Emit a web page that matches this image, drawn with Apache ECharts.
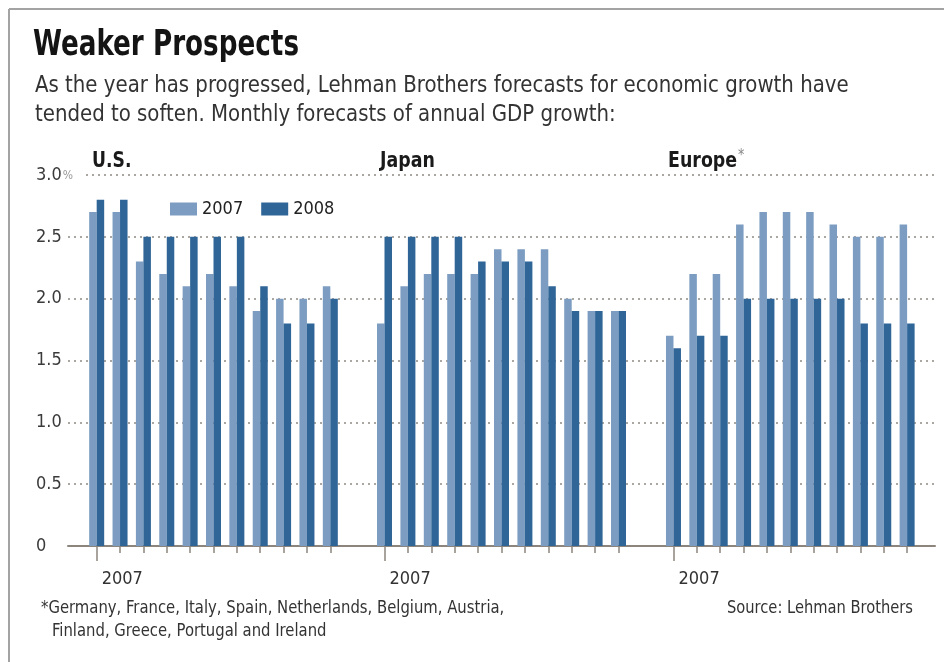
<!DOCTYPE html>
<html>
<head>
<meta charset="utf-8">
<script src="https://cdn.jsdelivr.net/npm/echarts@6/dist/echarts.min.js"></script>
<style>
  html,body{margin:0;padding:0;background:#fff;}
  #chart{width:944px;height:662px;}
</style>
</head>
<body>
<div id="chart"></div>
<script>
// ---- data ----
const months = ['Jan','Feb','Mar','Apr','May','Jun','Jul','Aug','Sep','Oct','Nov'];
const seriesNames = ['2007', '2008'];
const us2007 = [2.7, 2.7, 2.3, 2.2, 2.1, 2.2, 2.1, 1.9, 2.0, 2.0, 2.1];
const us2008 = [2.8, 2.8, 2.5, 2.5, 2.5, 2.5, 2.5, 2.1, 1.8, 1.8, 2.0];
const jp2007 = [1.8, 2.1, 2.2, 2.2, 2.2, 2.4, 2.4, 2.4, 2.0, 1.9, 1.9];
const jp2008 = [2.5, 2.5, 2.5, 2.5, 2.3, 2.3, 2.3, 2.1, 1.9, 1.9, 1.9];
const eu2007 = [1.7, 2.2, 2.2, 2.6, 2.7, 2.7, 2.7, 2.6, 2.5, 2.5, 2.6];
const eu2008 = [1.6, 1.7, 1.7, 2.0, 2.0, 2.0, 2.0, 2.0, 1.8, 1.8, 1.8];
const yMin = 0, yMax = 3, yStep = 0.5;
const panelTitles = ['U.S.', 'Japan', 'Europe'];
const yearLabel = '2007';

// ---- style ----
const FONT = "'Liberation Sans Narrow','DejaVu Sans Condensed','Noto Sans',sans-serif";
const C_LIGHT = '#7c9dc1';
const C_DARK = '#2f6597';
const C_AXIS = '#8c857d';
const C_GRID = '#8f8a84';

const chart = echarts.init(document.getElementById('chart'), null, {renderer: 'canvas'});

const panels = [
  {left: 85.0, width: 257.0, d07: us2007, d08: us2008},
  {left: 372.8, width: 257.4, d07: jp2007, d08: jp2008},
  {left: 661.8, width: 257.0, d07: eu2007, d08: eu2008}
];
const TOP = 175, BOTTOM = 116;

const grids = [{left: 68, right: 9, top: TOP, bottom: BOTTOM}];
const xAxes = [{
  gridIndex: 0, type: 'value', min: 0, max: 1,
  axisLine: {show: true, lineStyle: {color: C_AXIS, width: 2}},
  axisTick: {show: false}, axisLabel: {show: false}, splitLine: {show: false}
}];
const yAxes = [{
  gridIndex: 0, type: 'value', min: yMin, max: yMax, interval: yStep,
  axisLine: {show: false}, axisTick: {show: false},
  axisLabel: {
    margin: 32, align: 'left', fontFamily: FONT, fontSize: 18, color: '#3a3a3a',
    formatter: v => v === yMax ? '{a|' + v.toFixed(1) + '}{p|%}' : (v === 0 ? '0' : v.toFixed(1)),
    rich: {
      a: {fontFamily: FONT, fontSize: 18, color: '#3a3a3a'},
      p: {fontFamily: FONT, fontSize: 12, color: '#999', padding: [2, 9, 0, 1], backgroundColor: '#fff'}
    }
  },
  splitLine: {show: true, lineStyle: {color: C_GRID, type: [2, 4], width: 1.5}}
}];
const series = [];

panels.forEach((p, k) => {
  const gi = k + 1;
  grids.push({left: p.left, width: p.width, top: TOP, bottom: BOTTOM});
  xAxes.push({
    gridIndex: gi, type: 'category', data: months, position: 'bottom',
    axisLine: {show: false},
    axisTick: {show: true, alignWithLabel: true, interval: 0, length: 7, lineStyle: {color: C_AXIS, width: 1.5}},
    axisLabel: {show: false, interval: 0}, splitLine: {show: false}
  });
  xAxes.push({
    gridIndex: gi, type: 'category', data: months, position: 'bottom',
    axisLine: {show: false},
    axisTick: {show: true, alignWithLabel: true, length: 15, interval: (i) => i === 0,
               lineStyle: {color: C_AXIS, width: 1.5}},
    axisLabel: {show: true, interval: 0, margin: 24, align: 'left', padding: [0, 0, 0, 5],
                fontFamily: FONT, fontSize: 18, color: '#333',
                formatter: (v, i) => i === 0 ? yearLabel : ''},
    splitLine: {show: false}
  });
  yAxes.push({gridIndex: gi, type: 'value', min: yMin, max: yMax, show: false, splitLine: {show: false}});
  const xi = 1 + k * 2;
  series.push({
    name: seriesNames[0], type: 'bar', xAxisIndex: xi, yAxisIndex: gi,
    data: p.d07, barWidth: 7.5, barGap: '0%', itemStyle: {color: C_LIGHT}, z: 3
  });
  series.push({
    name: seriesNames[1], type: 'bar', xAxisIndex: xi, yAxisIndex: gi,
    data: p.d08, barWidth: 7.5, barGap: '0%', itemStyle: {color: C_DARK}, z: 3
  });
});

const txt = (x, y, text, size, sx, style) => ({
  type: 'text', x: x, y: y, scaleX: sx, silent: true,
  style: Object.assign({text: text, fontFamily: FONT, fontSize: size, fill: '#222',
                        verticalAlign: 'middle', align: 'left'}, style || {})
});

const graphics = [
  // frame lines (top & left)
  {type: 'line', shape: {x1: 9, y1: 9, x2: 944, y2: 9}, style: {stroke: '#a3a3a3', lineWidth: 2}, silent: true},
  {type: 'line', shape: {x1: 9, y1: 9, x2: 9, y2: 662}, style: {stroke: '#a3a3a3', lineWidth: 2}, silent: true},
  txt(33, 46, 'Weaker Prospects', 36, 0.81, {fontWeight: 'bold', fill: '#141414'}),
  txt(35, 86, 'As the year has progressed, Lehman Brothers forecasts for economic growth have', 23, 0.955, {fill: '#333'}),
  txt(35, 115, 'tended to soften. Monthly forecasts of annual GDP growth:', 23, 0.955, {fill: '#333'}),
  txt(92, 161, panelTitles[0], 22, 0.87, {fontWeight: 'bold', fill: '#1a1a1a'}),
  txt(380, 161, panelTitles[1], 22, 0.88, {fontWeight: 'bold', fill: '#1a1a1a'}),
  {type: 'text', x: 668, y: 161, scaleX: 0.88, silent: true,
   style: {text: '{a|' + panelTitles[2] + '}{s|*}', verticalAlign: 'middle',
           rich: {a: {fontFamily: FONT, fontSize: 22, fontWeight: 'bold', fill: '#1a1a1a', color: '#1a1a1a'},
                  s: {fontFamily: FONT, fontSize: 16, color: '#888', fill: '#888', padding: [0, 0, 10, 1]}}}},
  txt(41, 609, '*Germany, France, Italy, Spain, Netherlands, Belgium, Austria,', 17, 0.97, {fill: '#333'}),
  txt(52, 632, 'Finland, Greece, Portugal and Ireland', 17, 0.97, {fill: '#333'}),
  txt(913, 609, 'Source: Lehman Brothers', 17, 0.96, {fill: '#333', align: 'right'})
];

chart.setOption({
  backgroundColor: '#fff',
  animation: false,
  textStyle: {fontFamily: FONT},
  grid: grids,
  xAxis: xAxes,
  yAxis: yAxes,
  legend: {
    data: seriesNames, left: 170, top: 200, icon: 'rect',
    itemWidth: 27, itemHeight: 13, itemGap: 18, padding: 0,
    textStyle: {fontFamily: FONT, fontSize: 18, color: '#222'},
    selectedMode: false
  },
  series: series,
  graphic: graphics
});
</script>
</body>
</html>
